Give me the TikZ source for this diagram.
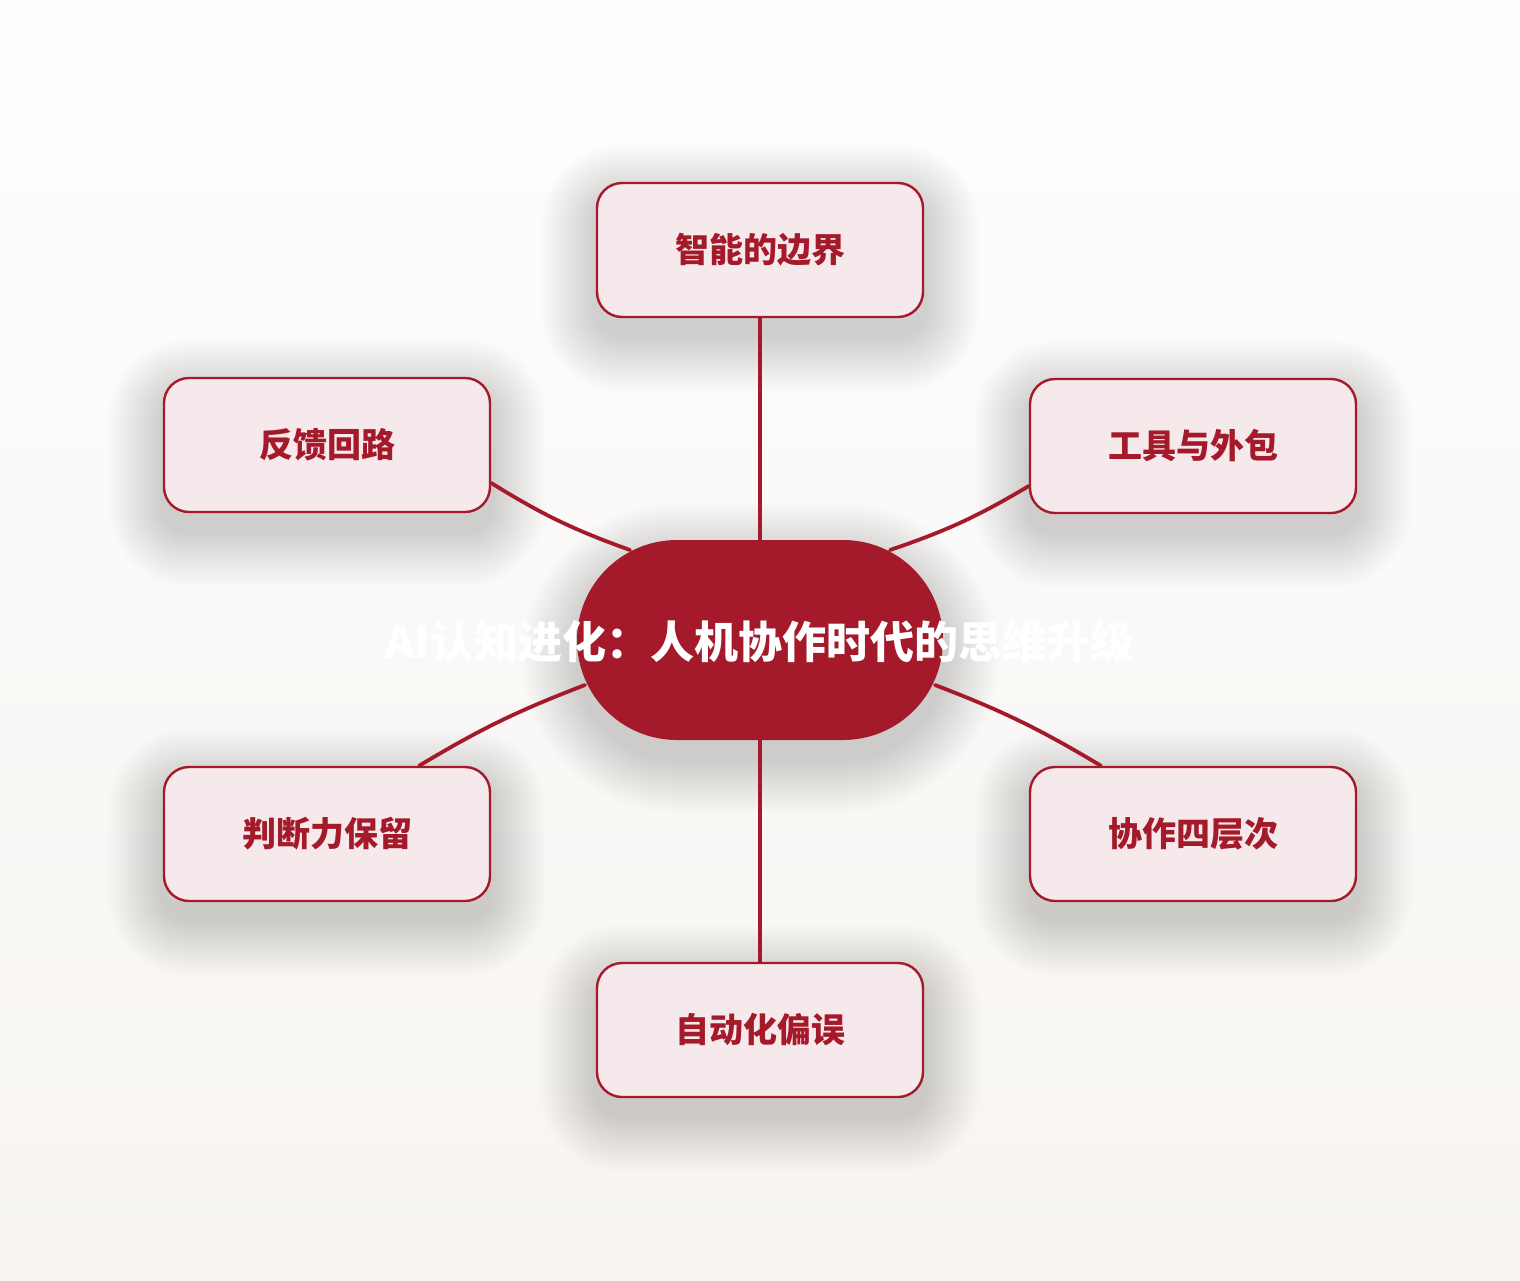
\documentclass[tikz,border=0pt]{standalone}
\usepackage{fontspec}
\setmainfont{Noto Sans CJK SC}
\definecolor{deepred}{HTML}{A51A2A}
\definecolor{boxfill}{HTML}{F5E9EB}
\definecolor{bgtop}{HTML}{FEFEFE}
\definecolor{bgbot}{HTML}{F7F4F0}
\pgfdeclarelayer{bglayer}
\pgfdeclarelayer{shadowlayer}
\pgfdeclarelayer{linelayer}
\pgfsetlayers{bglayer,shadowlayer,linelayer,main}
\tikzset{
  topicbox/.style={draw=deepred, line width=1.2pt, fill=boxfill, rounded corners=12.5pt,
    minimum width=163pt, minimum height=67pt, inner sep=0pt,
    text=deepred, font=\fontsize{17pt}{20pt}\selectfont\bfseries},
  hubshape/.style={fill=deepred, rounded corners=50pt, minimum width=183pt, minimum height=100pt, inner sep=0pt},
  hubtext/.style={text=white, font=\fontsize{22pt}{26pt}\selectfont\bfseries, inner sep=0pt},
  link/.style={draw=deepred, line width=1.9pt, line cap=round},
  shadowpiece/.style={fill=black, opacity=0.0075}
}
\newcommand\softshadow[2]{%
  \foreach \i in {1,...,22}{%
    \pgfmathsetmacro\rr{#2+1.25*\i}%
    \fill[shadowpiece, rounded corners=\rr pt]
      ([shift={(-2.5*\i,18-2.5*\i)}]#1.north west) rectangle ([shift={(2.5*\i,18+2.5*\i)}]#1.south east);
  }}
\begin{document}
\begin{tikzpicture}[x=0.5pt, y=-0.5pt]
\begin{pgfonlayer}{bglayer}
\shade[top color=bgtop, bottom color=bgbot] (0,0) rectangle (1520,1280);
\end{pgfonlayer}
\useasboundingbox (0,0) rectangle (1520,1280);
% outer topics
\node[topicbox] (t)  at (760,250)  {\raisebox{-1.2pt}{智能的边界}};
\node[topicbox] (lu) at (327,445)  {\raisebox{-1.2pt}{反馈回路}};
\node[topicbox] (ru) at (1193,446) {\raisebox{-1.2pt}{工具与外包}};
\node[topicbox] (ll) at (327,834)  {\raisebox{-1.2pt}{判断力保留}};
\node[topicbox] (rl) at (1193,834) {\raisebox{-1.2pt}{协作四层次}};
\node[topicbox] (b)  at (760,1030) {\raisebox{-1.2pt}{自动化偏误}};
% hub
\node[hubshape] (c) at (760,640) {};
\node[hubtext] (ct) at (760,642) {AI认知进化：人机协作时代的思维升级};
% shadows
\begin{pgfonlayer}{shadowlayer}
\softshadow{t}{12.5}
\softshadow{lu}{12.5}
\softshadow{ru}{12.5}
\softshadow{ll}{12.5}
\softshadow{rl}{12.5}
\softshadow{b}{12.5}
\softshadow{c}{50}
\end{pgfonlayer}
% connectors
\coordinate (cLU) at (630,550);
\coordinate (cRU) at (890,550);
\coordinate (cLL) at (585,685);
\coordinate (cRL) at (935,685);
\begin{pgfonlayer}{linelayer}
\draw[link] (t.south) -- (c.north);
\draw[link] (c.south) -- (b.north);
\draw[link] ([yshift=-19pt]lu.east) to[bend right=6] (cLU);
\draw[link] ([yshift=-20pt]ru.west) to[bend left=6] (cRU);
\draw[link] ([xshift=46pt]ll.north) to[bend left=5] (cLL);
\draw[link] ([xshift=-46pt]rl.north) to[bend right=5] (cRL);
\end{pgfonlayer}
\end{tikzpicture}
\end{document}
